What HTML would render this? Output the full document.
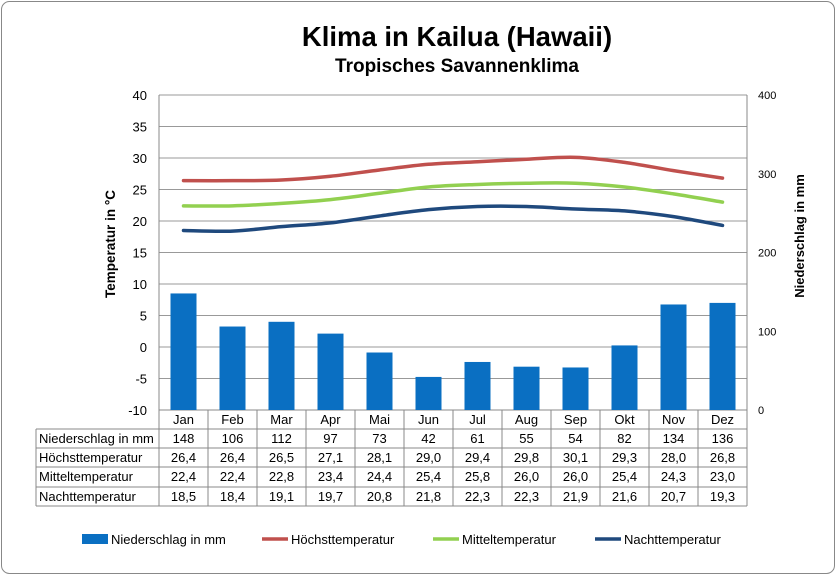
<!DOCTYPE html>
<html><head><meta charset="utf-8"><style>
body{margin:0;background:#fff;}
svg text{font-family:"Liberation Sans",Arial,sans-serif;}
</style></head><body>
<svg id="c" width="836" height="575" xmlns="http://www.w3.org/2000/svg">
<rect x="1.5" y="1.5" width="833" height="572" rx="8" fill="#fff" stroke="#888"/>
<text x="457" y="46" font-size="27.5" font-weight="bold" text-anchor="middle">Klima in Kailua (Hawaii)</text>
<text x="457" y="72" font-size="19" font-weight="bold" text-anchor="middle">Tropisches Savannenklima</text>
<text transform="translate(115,244) rotate(-90)" font-size="13.5" font-weight="bold" text-anchor="middle">Temperatur in °C</text>
<text transform="translate(804,236) rotate(-90)" font-size="13" font-weight="bold" text-anchor="middle">Niederschlag in mm</text>
<g id="g"></g>
</svg>
<script>
const months=["Jan","Feb","Mar","Apr","Mai","Jun","Jul","Aug","Sep","Okt","Nov","Dez"];
const precip=[148,106,112,97,73,42,61,55,54,82,134,136];
const tmax=[26.4,26.4,26.5,27.1,28.1,29.0,29.4,29.8,30.1,29.3,28.0,26.8];
const tmean=[22.4,22.4,22.8,23.4,24.4,25.4,25.8,26.0,26.0,25.4,24.3,23.0];
const tmin=[18.5,18.4,19.1,19.7,20.8,21.8,22.3,22.3,21.9,21.6,20.7,19.3];
const leftTicks=[-10,-5,0,5,10,15,20,25,30,35,40];
const rightTicks=[0,100,200,300,400];
const L=159,R=747,T=95,B=410,cw=(R-L)/12;
const yT=v=>B-(v+10)/50*(B-T);
const yP=v=>B-v/400*(B-T);
const xC=i=>L+cw*(i+0.5);
const NS="http://www.w3.org/2000/svg",g=document.getElementById('g');
function mk(t,a,txt){const e=document.createElementNS(NS,t);for(const k in a)e.setAttribute(k,a[k]);if(txt!=null)e.textContent=txt;g.appendChild(e);return e;}
leftTicks.forEach(v=>{
 const l=mk('line',{x1:L,x2:R,y1:yT(v),y2:yT(v),stroke:v===-10?'#888':'#999','stroke-width':1});
 
 
 const t=mk('text',{x:L-12,y:yT(v)+5,'font-size':13,'text-anchor':'end'},String(v));
 
 
});
rightTicks.forEach(v=>{
 const t=mk('text',{x:758,y:yP(v)+4,'font-size':11},String(v));
 
 
});
mk('line',{x1:L,x2:L,y1:T,y2:B,stroke:'#888'});
mk('line',{x1:R,x2:R,y1:T,y2:B,stroke:'#888'});
precip.forEach((v,i)=>{
 const r=mk('rect',{x:xC(i)-13,y:yP(v),width:26,height:B-yP(v),fill:'#0a6fc2'});
 
 
});
function line(arr,col,name){
 let d='';const p=arr.map((v,i)=>[xC(i),yT(v)]);
 d='M'+p[0][0]+','+p[0][1];
 for(let i=0;i<p.length-1;i++){const p0=p[i-1]||p[i],p1=p[i],p2=p[i+1],p3=p[i+2]||p2;
  d+=' C'+(p1[0]+(p2[0]-p0[0])/6)+','+(p1[1]+(p2[1]-p0[1])/6)+' '+(p2[0]-(p3[0]-p1[0])/6)+','+(p2[1]-(p3[1]-p1[1])/6)+' '+p2[0]+','+p2[1];}
 const e=mk('path',{d:d,fill:'none',stroke:col,'stroke-width':3.5,'stroke-linecap':'round'});
 
 
}
line(tmax,'#c0504d','line-hoechsttemperatur');
line(tmean,'#92d050','line-mitteltemperatur');
line(tmin,'#1f497d','line-nachttemperatur');
// table
const rows=[["Niederschlag in mm",precip.map(String)],["Höchsttemperatur",tmax.map(v=>v.toFixed(1).replace('.',','))],["Mitteltemperatur",tmean.map(v=>v.toFixed(1).replace('.',','))],["Nachttemperatur",tmin.map(v=>v.toFixed(1).replace('.',','))]];
const rowY=[429,448,467,487,506];
mk('line',{x1:36,x2:R,y1:429,y2:429,stroke:'#888'});
rows.forEach((r,j)=>{
 mk('line',{x1:36,x2:R,y1:rowY[j+1],y2:rowY[j+1],stroke:'#888'});
 const t=mk('text',{x:39,y:rowY[j]+14,'font-size':13},r[0]);
 
 
 r[1].forEach((v,i)=>{const c=mk('text',{x:xC(i),y:rowY[j]+14,'font-size':13,'text-anchor':'middle'},v);
  
  });
});
mk('line',{x1:36,x2:36,y1:429,y2:506,stroke:'#888'});
for(let i=0;i<=12;i++)mk('line',{x1:L+cw*i,x2:L+cw*i,y1:B,y2:506,stroke:'#888'});
months.forEach((m,i)=>{const t=mk('text',{x:xC(i),y:424,'font-size':13,'text-anchor':'middle'},m);
 
 });
// legend
const leg=[["rect","#0a6fc2","Niederschlag in mm",82],["line","#c0504d","Höchsttemperatur",262],["line","#92d050","Mitteltemperatur",433],["line","#1f497d","Nachttemperatur",595]];
leg.forEach(l=>{
 if(l[0]==="rect")mk('rect',{x:l[3],y:534,width:26,height:10,fill:l[1]});
 else mk('line',{x1:l[3],x2:l[3]+26,y1:539,y2:539,stroke:l[1],'stroke-width':3.5});
 const t=mk('text',{x:l[3]+29,y:544,'font-size':13},l[2]);
 
 
});
</script>
</body></html>
